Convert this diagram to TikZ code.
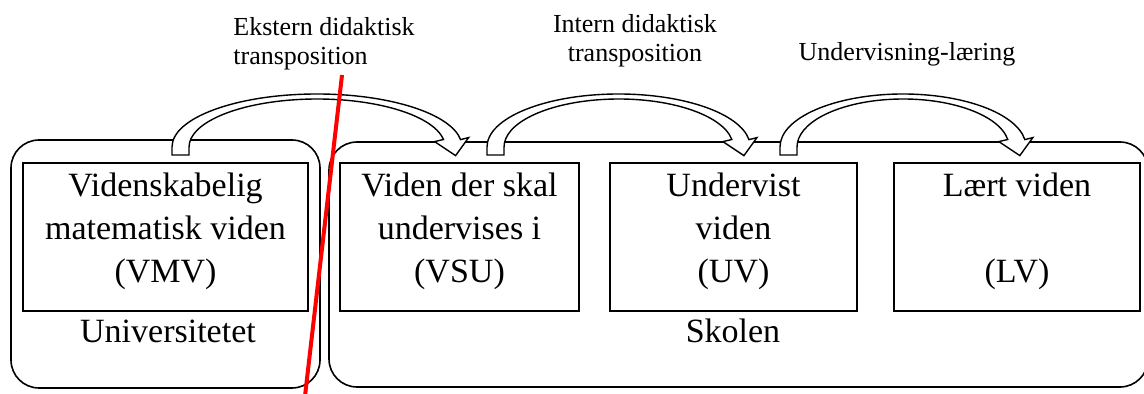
\documentclass[tikz,border=0pt]{standalone}
\usepackage{fontspec}
\setmainfont{Liberation Serif}
\usepackage{tikz}
% hollow bent arrow: #1 centre x, #2 outer x radius
\newcommand{\bentarrow}[2]{%
  \draw[blockarrow] (#1-#2,155) -- (#1-#2,147)
    arc[start angle=180,end angle=352,x radius=#2,y radius=53]
    -- ++(8,-2) -- ++(-13,18) -- ++(-21,-14)
    -- (#1+0.988*#2-16.8,139.5)
    arc[start angle=351,end angle=180,x radius=#2-17,y radius=48]
    -- (#1-#2+17,155) -- cycle;}

\begin{document}
\begin{tikzpicture}[x=0.5pt,y=-0.5pt,
  placebox/.style={draw,line width=0.8pt,rounded corners=14pt,minimum height=124pt},
  knowbox/.style={draw,line width=0.8pt,minimum height=74pt,align=center,
    font=\fontsize{17}{21.5}\selectfont,text depth=9.5pt},
  placetext/.style={anchor=base,font=\fontsize{17}{21.5}\selectfont},
  steptext/.style={font=\fontsize{13}{14.5}\selectfont,inner sep=0pt},
  blockarrow/.style={draw,fill=white,line width=0.7pt}]
\useasboundingbox (0,0) rectangle (1144,394);
% the two places
\node[placebox,minimum width=154.5pt] (uni) at (165.5,264) {};
\node[placebox,minimum width=409.5pt,minimum height=122.5pt] (skole) at (738.5,264.5) {};
\node[placetext] (unitext) at (168,343) {Universitetet};
\node[placetext] (skoletext) at (733,343) {Skolen};
% the four kinds of knowledge
\node[knowbox,minimum width=142.5pt] (vmv) at (165.5,237) {Videnskabelig\\matematisk viden\\(VMV)};
\node[knowbox,minimum width=119.5pt] (vsu) at (459.5,237) {Viden der skal\\undervises i\\(VSU)};
\node[knowbox,minimum width=123.5pt] (uv) at (733.5,237) {Undervist\\viden\\(UV)};
\node[knowbox,minimum width=123pt] (lv) at (1017,237) {Lært viden\\\mbox{}\\(LV)};
% transpositions
\bentarrow{317}{145}
\bentarrow{618.6}{131.6}
\bentarrow{903}{123}
\node[steptext,anchor=north west,align=left] (ekstern) at (233,17) {Ekstern didaktisk\\transposition};
\node[steptext,anchor=north,align=center] (intern) at (635,14) {Intern didaktisk\\transposition};
\node[steptext,anchor=base] (undlaer) at (907,61) {Undervisning-læring};
% the cut
\coordinate (cuttop) at (342,75);
\coordinate (cutbot) at (305,396);
\draw[red,line width=2pt] (cuttop) -- (cutbot);
\end{tikzpicture}
\end{document}
